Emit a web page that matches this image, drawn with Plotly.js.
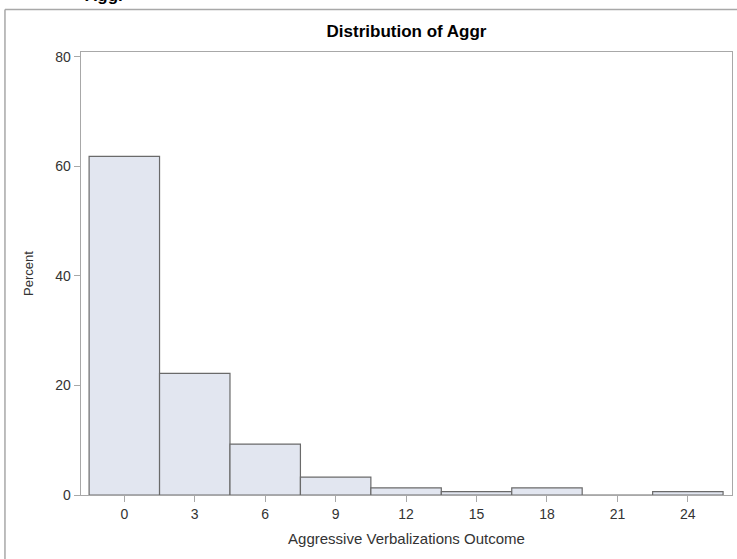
<!DOCTYPE html>
<html>
<head>
<meta charset="utf-8">
<script src="https://cdn.plot.ly/plotly-3.0.1.min.js"></script>
<style>
  html, body { margin: 0; padding: 0; background: #ffffff; }
  #chart { width: 737px; height: 559px; }
</style>
</head>
<body>
<div id="chart"></div>
<script>
// Bin midpoints of Aggr (bin width 3)
const binMidpoints = [0, 3, 6, 9, 12, 15, 18, 21, 24];
// Percent of observations in each bin
const percentValues = [61.8, 22.2, 9.3, 3.25, 1.3, 0.6, 1.3, 0, 0.6];
const xTickVals = [0, 3, 6, 9, 12, 15, 18, 21, 24];
const yTickVals = [0, 20, 40, 60, 80];
const chartTitle = "Distribution of Aggr";
const xTitle = "Aggressive Verbalizations Outcome";
const yTitle = "Percent";
const headingText = "Aggr";

const FONT = "Liberation Sans, Arial, Helvetica, sans-serif";

const trace = {
  type: "bar",
  x: binMidpoints,
  y: percentValues,
  width: 3,
  marker: {
    color: "#e2e6f0",
    line: { color: "#6a6a6a", width: 1.2 }
  },
  hoverinfo: "x+y"
};

const layout = {
  width: 737,
  height: 559,
  margin: { l: 81, r: 5.3, t: 52, b: 63.5, pad: 0 },
  paper_bgcolor: "#ffffff",
  plot_bgcolor: "#ffffff",
  showlegend: false,
  bargap: 0,
  font: { family: FONT, color: "#333333", size: 14 },
  title: {
    text: "<b>" + chartTitle + "</b>",
    font: { family: FONT, size: 17, color: "#000000" },
    x: 0.5, xref: "paper", xanchor: "center",
    y: 0.9445, yref: "container", yanchor: "middle"
  },
  xaxis: {
    range: [-1.845, 25.88],
    tickvals: xTickVals,
    ticktext: xTickVals.map(String),
    ticks: "outside",
    ticklen: 6,
    tickcolor: "#a8a8a8",
    tickwidth: 1,
    showline: true,
    linecolor: "#a8a8a8",
    linewidth: 1.3,
    mirror: true,
    showgrid: false,
    zeroline: false,
    tickfont: { family: FONT, size: 14, color: "#333333" },
    title: { text: xTitle, font: { family: FONT, size: 15, color: "#333333" }, standoff: 12 },
    automargin: false,
    fixedrange: true
  },
  yaxis: {
    range: [0, 80.86],
    tickvals: yTickVals,
    ticktext: yTickVals.map(String),
    ticks: "outside",
    ticklen: 6,
    tickcolor: "#a8a8a8",
    tickwidth: 1,
    showline: true,
    linecolor: "#a8a8a8",
    linewidth: 1.3,
    mirror: true,
    showgrid: false,
    zeroline: false,
    tickfont: { family: FONT, size: 14, color: "#333333" },
    title: { text: yTitle, font: { family: FONT, size: 13, color: "#333333" }, standoff: 18 },
    automargin: false,
    fixedrange: true
  },
  shapes: [
    { type: "line", xref: "paper", yref: "paper",
      x0: -76 / 650.7, x1: 700 / 650.7, y0: 1 + 42.5 / 443.5, y1: 1 + 42.5 / 443.5,
      line: { color: "#a8a8a8", width: 1.5 } },
    { type: "line", xref: "paper", yref: "paper",
      x0: -76 / 650.7, x1: -76 / 650.7, y0: 1 + 42.5 / 443.5, y1: -70 / 443.5,
      line: { color: "#a8a8a8", width: 1.5 } }
  ],
  annotations: [
    { text: "<b>" + headingText + "</b>", xref: "paper", yref: "paper",
      x: 2 / 650.7, xanchor: "left", y: 1 + 45 / 443.5, yanchor: "bottom",
      showarrow: false, font: { family: FONT, size: 17, color: "#000000" } }
  ]
};

Plotly.newPlot("chart", [trace], layout, { displayModeBar: false, staticPlot: true });
</script>
</body>
</html>
